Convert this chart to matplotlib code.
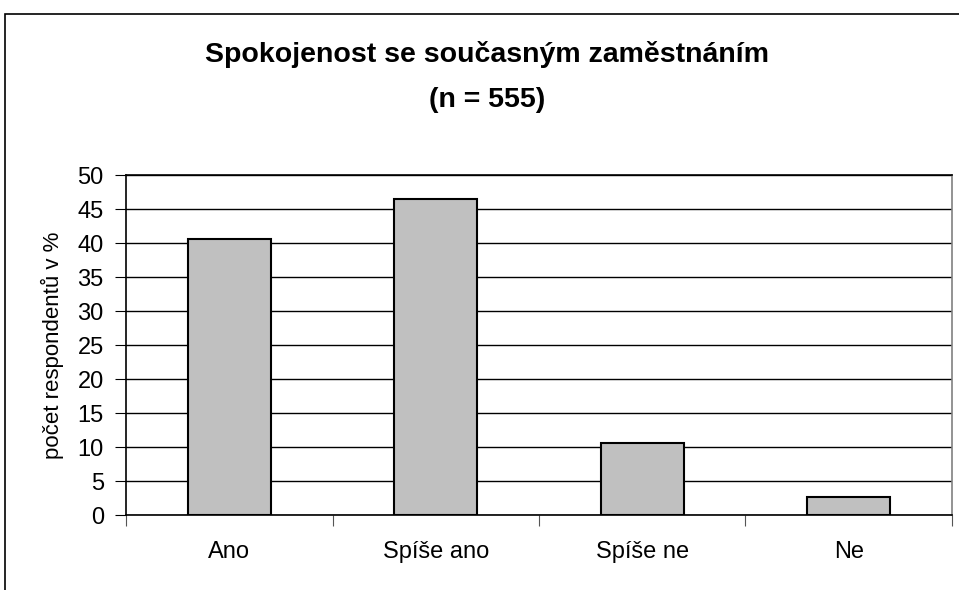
import matplotlib.pyplot as plt
from matplotlib.patches import Rectangle

categories = ["Ano", "Spíše ano", "Spíše ne", "Ne"]
values = [40.6, 46.4, 10.6, 2.7]
y_ticks = [0, 5, 10, 15, 20, 25, 30, 35, 40, 45, 50]

plt.rcParams['font.family'] = ['Liberation Sans', 'DejaVu Sans']

fig = plt.figure(figsize=(9.59, 5.9), dpi=100)
ax = fig.add_axes([126 / 959, 1 - 515 / 590, 826 / 959, 340 / 590])

x = list(range(len(categories)))
ax.bar(x, values, width=0.4, color='#c0c0c0', edgecolor='black', linewidth=1.5, zorder=3)

ax.set_xlim(-0.5, len(categories) - 0.5)
ax.set_ylim(0, 50)
ax.set_yticks(y_ticks)
ax.set_yticklabels([str(v) for v in y_ticks], fontsize=17)
ax.yaxis.grid(True, color='black', linewidth=1, zorder=0)

# category labels between boundary ticks
ax.set_xticks([i - 0.5 for i in range(len(categories) + 1)])
ax.set_xticklabels([])
ax.set_xticks(x, minor=True)
ax.set_xticklabels(categories, minor=True, fontsize=17)
ax.tick_params(axis='x', which='minor', length=0, pad=19)
ax.tick_params(axis='x', which='major', length=8, direction='out', color='#555555')
ax.tick_params(axis='y', length=8, direction='out', pad=8)

ax.spines['top'].set_color('black')
ax.spines['right'].set_color('#808080')
for side in ['left', 'bottom', 'top', 'right']:
    ax.spines[side].set_linewidth(1.2)

ax.set_ylabel("počet respondentů v %", fontsize=16, labelpad=10)

fig.text(487 / 959, 1 - 55 / 590, "Spokojenost se současným zaměstnáním",
         ha='center', va='center', fontsize=20.5, fontweight='bold')
fig.text(487 / 959, 1 - 100 / 590, "(n = 555)",
         ha='center', va='center', fontsize=20.5, fontweight='bold')

# outer chart frame
fig.patches.append(Rectangle((4.5 / 959, -0.05), 1.1, 1.05 - 13.5 / 590,
                             transform=fig.transFigure, fill=False,
                             edgecolor='black', linewidth=1.2))

fig.savefig("out.png", dpi=100)
